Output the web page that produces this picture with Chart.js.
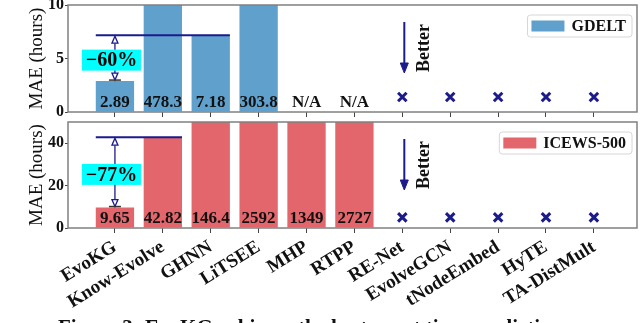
<!DOCTYPE html>
<html lang="en">
<head>
    <meta charset="UTF-8">
    <title>EvoKG event time MAE</title>
    <style>
        body {
            margin: 0;
            background: #fff;
            width: 640px;
            height: 323px;
            overflow: hidden;
            position: relative;
        }
        canvas { position: absolute; left: 0; }
        #topPanel { top: 0; }
        #bottomPanel { top: 118px; }
        #caption {
            position: absolute;
            left: 58px;
            top: 317px;
            font: bold 21px 'Liberation Serif', 'Times New Roman', serif;
            line-height: 21px;
            white-space: nowrap;
            color: #111;
        }
    </style>
</head>
<body>
    <canvas id="topPanel" width="640" height="118"></canvas>
    <canvas id="bottomPanel" width="640" height="205"></canvas>
    <div id="caption">Figure 3: EvoKG achieves the best event time prediction re-</div>

    <script src="https://cdn.jsdelivr.net/npm/chart.js"></script>
    <script>
        const methods = ['EvoKG', 'Know-Evolve', 'GHNN', 'LiTSEE', 'MHP', 'RTPP',
                         'RE-Net', 'EvolveGCN', 'tNodeEmbed', 'HyTE', 'TA-DistMult'];
        // MAE in hours, null = N/A
        const gdeltMae = [2.89, 478.3, 7.18, 303.8, null, null, null, null, null, null, null];
        const icewsMae = [9.65, 42.82, 146.4, 2592, 1349, 2727, null, null, null, null, null];
        // methods that cannot predict event time at all (drawn as x)
        const noTimePrediction = [false, false, false, false, false, false, true, true, true, true, true];
        const gdeltTicks = [0, 5, 10];
        const icewsTicks = [0, 20, 40];

        const SERIF = "'Liberation Serif', 'Times New Roman', serif";
        const NAVY = '#1b1b8c';

        function arrowHead(ctx, x, y, dir, w, h, fill) {
            // tip at (x, y); dir 1 points down, -1 points up
            ctx.beginPath();
            ctx.moveTo(x, y);
            ctx.lineTo(x - w / 2, y - dir * h);
            ctx.lineTo(x + w / 2, y - dir * h);
            ctx.closePath();
            ctx.fillStyle = fill;
            ctx.fill();
            ctx.stroke();
        }

        const panelDecor = {
            id: 'panelDecor',
            afterDatasetsDraw(chart, args, opts) {
                const { ctx, chartArea: a, scales: { x, y } } = chart;
                const vals = opts.values;
                ctx.save();

                // frame
                ctx.strokeStyle = '#808080';
                ctx.lineWidth = 1.5;
                ctx.strokeRect(a.left, a.top, a.width, a.height);

                // value labels at the foot of the bars
                ctx.fillStyle = '#111';
                ctx.font = 'bold 17px ' + SERIF;
                ctx.textAlign = 'center';
                ctx.textBaseline = 'alphabetic';
                const y0 = y.getPixelForValue(0);
                methods.forEach((m, i) => {
                    if (noTimePrediction[i]) return;
                    const txt = vals[i] == null ? 'N/A' : String(vals[i]);
                    ctx.fillText(txt, x.getPixelForValue(i), y0 - 5);
                });

                // improvement bracket: EvoKG vs best baseline
                const half = chart.getDatasetMeta(0).data[0].width / 2;
                const best = vals[0], base = vals[opts.baseIdx];
                const xb = x.getPixelForValue(0);
                const yBase = y.getPixelForValue(base);
                const yBest = y.getPixelForValue(best);
                ctx.strokeStyle = NAVY;
                ctx.lineWidth = 2;
                ctx.beginPath();
                ctx.moveTo(xb - half, yBase);
                ctx.lineTo(x.getPixelForValue(opts.baseIdx) + half, yBase);
                ctx.stroke();
                ctx.lineWidth = 1.3;
                ctx.beginPath();
                ctx.moveTo(xb, yBase + 8);
                ctx.lineTo(xb, yBest - 8);
                ctx.stroke();
                arrowHead(ctx, xb, yBase + 1, -1, 6, 7, '#fff');
                arrowHead(ctx, xb, yBest - 1, 1, 6, 7, '#fff');
                ctx.strokeStyle = '#333';
                ctx.lineWidth = 1.5;
                ctx.beginPath();
                ctx.moveTo(xb - 6, yBest - 1);
                ctx.lineTo(xb + 6, yBest - 1);
                ctx.stroke();

                const pct = Math.round((best - base) / base * 100);
                const label = (pct < 0 ? '\u2212' : '') + Math.abs(pct) + '%';
                const cy = (yBase + yBest) / 2 + 2;
                ctx.fillStyle = '#00ffff';
                ctx.fillRect(xb - 33, cy - 10.5, 59, 21);
                ctx.fillStyle = '#000';
                ctx.font = 'bold 20px ' + SERIF;
                ctx.textBaseline = 'middle';
                ctx.fillText(label, xb - 3.5, cy + 1);

                // "Better" arrow
                const xa = x.getPixelForValue(opts.betterIdx) + 2;
                ctx.strokeStyle = NAVY;
                ctx.fillStyle = NAVY;
                ctx.lineWidth = 2;
                ctx.beginPath();
                ctx.moveTo(xa, a.top + 17);
                ctx.lineTo(xa, a.top + 60);
                ctx.stroke();
                ctx.lineWidth = 1;
                arrowHead(ctx, xa, a.top + 68, 1, 8, 10, NAVY);
                ctx.save();
                ctx.translate(xa + 25, a.top + 67);
                ctx.rotate(-Math.PI / 2);
                ctx.fillStyle = '#111';
                ctx.font = 'bold 18px ' + SERIF;
                ctx.textAlign = 'left';
                ctx.textBaseline = 'alphabetic';
                ctx.fillText('Better', 0, 0);
                ctx.restore();

                // legend
                const ds = chart.data.datasets[0];
                ctx.font = 'bold 16px ' + SERIF;
                const tw = ctx.measureText(ds.label).width;
                const bw = 4 + 33 + 7 + tw + 6, bh = 22;
                const bx = a.right - 5 - bw, by = a.top + 10;
                ctx.beginPath();
                ctx.roundRect(bx, by, bw, bh, 3);
                ctx.fillStyle = '#fff';
                ctx.fill();
                ctx.strokeStyle = '#d6d6d6';
                ctx.lineWidth = 1;
                ctx.stroke();
                ctx.fillStyle = ds.backgroundColor;
                ctx.fillRect(bx + 4, by + 5.5, 33, 11);
                ctx.fillStyle = '#111';
                ctx.textAlign = 'left';
                ctx.textBaseline = 'middle';
                ctx.fillText(ds.label, bx + 44, by + bh / 2 + 1);

                ctx.restore();
            }
        };

        function makePanel(id, cfg) {
            return new Chart(document.getElementById(id), {
                type: 'bar',
                data: {
                    datasets: [
                        {
                            label: cfg.label,
                            data: methods.map((m, i) => ({ x: i, y: cfg.values[i] })),
                            backgroundColor: cfg.color,
                            barPercentage: 1,
                            categoryPercentage: 0.8,
                            clip: 0
                        },
                        {
                            type: 'scatter',
                            data: methods.map((m, i) => noTimePrediction[i] ? { x: i, y: cfg.crossLevel } : null)
                                         .filter(p => p),
                            pointStyle: 'crossRot',
                            radius: 6,
                            borderColor: NAVY,
                            borderWidth: 3
                        }
                    ]
                },
                options: {
                    responsive: false,
                    animation: false,
                    events: [],
                    layout: { autoPadding: false, padding: { top: cfg.padTop, right: 3, left: 0, bottom: 0 } },
                    plugins: {
                        legend: { display: false },
                        tooltip: { enabled: false },
                        panelDecor: { values: cfg.values, baseIdx: cfg.baseIdx, betterIdx: 6 }
                    },
                    scales: {
                        x: {
                            type: 'linear',
                            min: -0.98,
                            max: 10.9,
                            offset: false,
                            afterBuildTicks: ax => { ax.ticks = methods.map((m, i) => ({ value: i })); },
                            afterFit: ax => {
                                ax.height = cfg.xHeight;
                                ax.paddingLeft = 0;
                                ax.paddingRight = 0;
                            },
                            grid: { offset: false, drawOnChartArea: false, tickLength: 5, color: '#444' },
                            border: { display: false },
                            ticks: {
                                display: cfg.showLabels,
                                autoSkip: false,
                                minRotation: 32,
                                maxRotation: 32,
                                padding: 3,
                                color: '#111',
                                font: { family: SERIF, size: 19, weight: 'bold' },
                                callback: v => methods[v]
                            }
                        },
                        y: {
                            min: 0,
                            max: cfg.yMax,
                            afterBuildTicks: ax => { ax.ticks = cfg.ticks.map(v => ({ value: v })); },
                            afterFit: ax => {
                                ax.width = 68;
                                ax.paddingTop = 0;
                                ax.paddingBottom = 0;
                            },
                            grid: { drawOnChartArea: false, tickLength: 3, color: '#444' },
                            border: { display: false },
                            ticks: { padding: 1, color: '#111', font: { family: SERIF, size: 16, weight: 'bold' } },
                            title: {
                                display: true,
                                text: 'MAE (hours)',
                                color: '#111',
                                font: { family: SERIF, size: 19 },
                                padding: { top: 26, bottom: 0 }
                            }
                        }
                    }
                },
                plugins: [panelDecor]
            });
        }

        makePanel('topPanel', {
            label: 'GDELT', values: gdeltMae, color: '#60a0cc', yMax: 10, ticks: gdeltTicks,
            crossLevel: 1.4, baseIdx: 2, padTop: 5, xHeight: 6, showLabels: false
        });
        makePanel('bottomPanel', {
            label: 'ICEWS-500', values: icewsMae, color: '#e2666b', yMax: 50, ticks: icewsTicks,
            crossLevel: 5, baseIdx: 1, padTop: 4, xHeight: 95, showLabels: true
        });
    </script>
</body>
</html>
